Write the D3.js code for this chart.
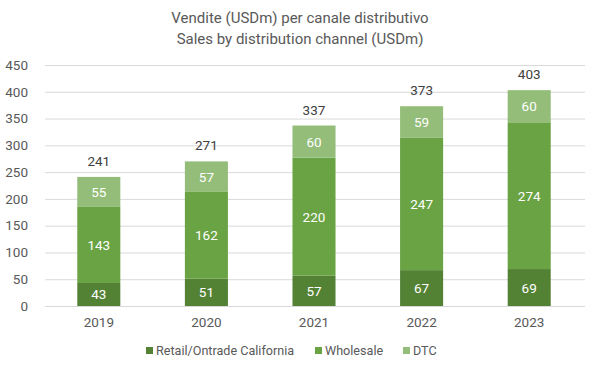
<!DOCTYPE html>
<html lang="en">
<head>
<meta charset="utf-8">
<title>Sales by distribution channel</title>
<script src="https://d3js.org/d3.v7.min.js"></script>
<style>
  body { margin: 0; background: #fff; }
  text { font-family: "Roboto", "Liberation Sans", sans-serif; }
</style>
</head>
<body>
<script>
const years = ['2019', '2020', '2021', '2022', '2023'];
const retail = [43, 51, 57, 67, 69];
const wholesale = [143, 162, 220, 247, 274];
const dtc = [55, 57, 60, 59, 60];
const totals = [241, 271, 337, 373, 403];
const yTicks = [0, 50, 100, 150, 200, 250, 300, 350, 400, 450];
const seriesNames = ['Retail/Ontrade California', 'Wholesale', 'DTC'];
const colors = ['#548235', '#6aa343', '#93bd79'];

const w = 599, h = 372;
const svg = d3.select('body').append('svg').attr('width', w).attr('height', h);

const x = d3.scaleBand().domain(years).range([45, 583]).paddingInner(0.6).paddingOuter(0.3);
const y = d3.scaleLinear().domain([0, 450]).range([306, 65]);

// title
svg.append('text').text('Vendite (USDm) per canale distributivo')
   .attr('x', 300).attr('y', 23).attr('text-anchor', 'middle')
   .attr('font-size', 15).attr('fill', '#595959');
svg.append('text').text('Sales by distribution channel (USDm)')
   .attr('x', 300).attr('y', 44).attr('text-anchor', 'middle')
   .attr('font-size', 15).attr('fill', '#595959');

// grid
svg.append('g').selectAll('line').data(yTicks).enter().append('line')
   .attr('x1', 45).attr('x2', 585)
   .attr('y1', d => y(d) + 0.5).attr('y2', d => y(d) + 0.5)
   .attr('stroke', '#d9d9d9');

const yAxis = d3.axisLeft(y).tickValues(yTicks).tickSize(0).tickPadding(8);
svg.append('g').attr('transform', 'translate(36,0)').call(yAxis)
   .call(g => g.select('.domain').remove())
   .selectAll('text').attr('font-size', 13.5).attr('fill', '#595959')
   .style('font-family', 'Roboto, sans-serif');

const xAxis = d3.axisBottom(x).tickSize(0).tickPadding(11);
svg.append('g').attr('transform', 'translate(0,306)').call(xAxis)
   .call(g => g.select('.domain').remove())
   .selectAll('text').attr('font-size', 13.5).attr('fill', '#595959')
   .style('font-family', 'Roboto, sans-serif');

// stacked bars
const rows = years.map((yr, i) => ({ year: yr, r: retail[i], w: wholesale[i], d: dtc[i] }));
const stack = d3.stack().keys(['r', 'w', 'd'])(rows);

stack.forEach((layer, li) => {
  const g = svg.append('g');
  g.selectAll('rect').data(layer).enter().append('rect')
   .attr('x', d => x(d.data.year))
   .attr('width', x.bandwidth())
   .attr('y', d => y(d[1]))
   .attr('height', d => y(d[0]) - y(d[1]))
   .attr('fill', colors[li]);
  g.selectAll('text').data(layer).enter().append('text')
   .text(d => d[1] - d[0])
   .attr('x', d => x(d.data.year) + x.bandwidth() / 2)
   .attr('y', d => (y(d[0]) + y(d[1])) / 2 + 5)
   .attr('text-anchor', 'middle')
   .attr('font-size', 13.5).attr('fill', '#ffffff');
});

// totals
svg.append('g').selectAll('text').data(totals).enter().append('text')
   .text(d => d)
   .attr('x', (d, i) => x(years[i]) + x.bandwidth() / 2)
   .attr('y', d => y(d) - 11)
   .attr('text-anchor', 'middle')
   .attr('font-size', 13.5).attr('fill', '#404040');

// legend
const legendX = [146, 315, 403];
const lg = svg.append('g');
seriesNames.forEach((name, i) => {
  lg.append('rect').attr('x', legendX[i]).attr('y', 347).attr('width', 7).attr('height', 7).attr('fill', colors[i]);
  lg.append('text').text(name).attr('x', legendX[i] + 10).attr('y', 355)
    .attr('font-size', 12.6).attr('fill', '#595959');
});
</script>
</body>
</html>
